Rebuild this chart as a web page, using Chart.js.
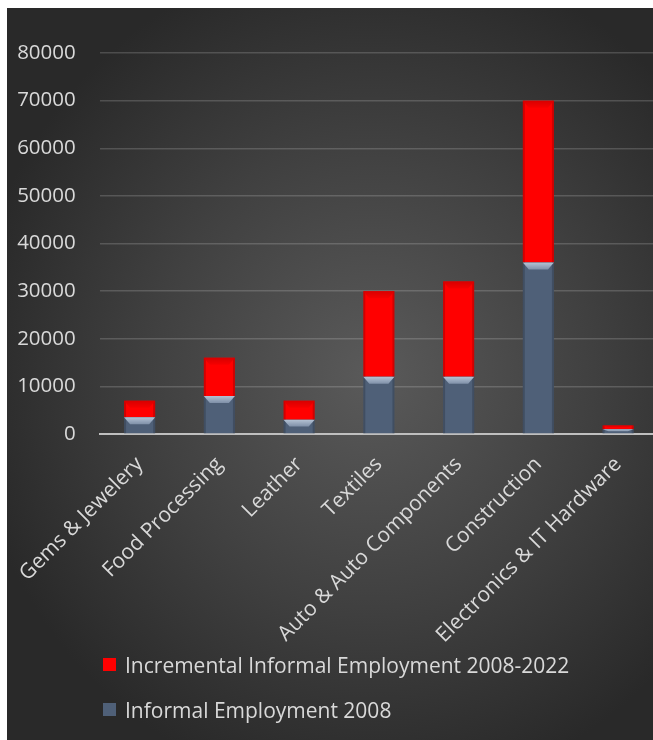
<!DOCTYPE html>
<html>
<head>
<meta charset="utf-8">
<script src="https://cdn.jsdelivr.net/npm/chart.js@4.4.0/dist/chart.umd.min.js"></script>
<style>
    html, body { margin: 0; padding: 0; background: #fff; width: 653px; height: 740px; overflow: hidden; }
    #frame {
        position: absolute; left: 7px; top: 8px; width: 651px; height: 732px;
        background: radial-gradient(ellipse 62% 58% at 56% 50%, #5a5a5a 0%, #404040 55%, #292929 100%);
    }
    #chart { position: absolute; left: 0; top: 0; }
    #legend {
        position: absolute; left: 96px; top: 634px;
        font-family: 'Open Sans', sans-serif; font-size: 21px; color: #d9d9d9;
    }
    .legend-item { display: flex; align-items: center; height: 45px; white-space: nowrap; }
    .legend-swatch { width: 13px; height: 13px; margin-right: 9px; }
</style>
</head>
<body>
<div id="frame">
    <canvas id="chart" width="651" height="732"></canvas>
    <div id="legend"></div>
</div>
<script>
// Chart data
const categories = ['Gems & Jewelery', 'Food Processing', 'Leather', 'Textiles',
                    'Auto & Auto Components', 'Construction', 'Electronics & IT Hardware'];
const informal2008 = [3500, 8000, 3000, 12000, 12000, 36000, 1000];
const incremental = [3500, 8000, 4000, 18000, 20000, 34000, 800];
const seriesNames = ['Informal Employment 2008', 'Incremental Informal Employment 2008-2022'];
const yTicks = [0, 10000, 20000, 30000, 40000, 50000, 60000, 70000, 80000];

const TEXT = '#d9d9d9';
const BLUE = '#4f6078';
const RED = '#ff0000';

// Little bevel on top of each bar, like the Excel style
const bevelPlugin = {
    id: 'bevel',
    afterDatasetsDraw(chart) {
        const ctx = chart.ctx;
        chart.data.datasets.forEach((ds, i) => {
            chart.getDatasetMeta(i).data.forEach(bar => {
                const { x, y, base, width } = bar.getProps(['x', 'y', 'base', 'width'], true);
                const left = x - width / 2;
                const h = base - y;
                if (h <= 0) return;
                const bev = Math.min(7, h / 2);
                const inset = Math.min(6, width / 4);
                ctx.save();
                // dark side edges
                ctx.fillStyle = 'rgba(0,0,0,0.18)';
                ctx.fillRect(left, y, 2, h);
                ctx.fillRect(left + width - 2, y, 2, h);
                // top chevron
                const g = ctx.createLinearGradient(0, y, 0, y + bev);
                if (i === 0) {
                    g.addColorStop(0, '#b4c2d4');
                    g.addColorStop(1, '#7f90a8');
                } else {
                    g.addColorStop(0, '#d80000');
                    g.addColorStop(1, '#f60000');
                }
                ctx.fillStyle = g;
                ctx.beginPath();
                ctx.moveTo(left, y);
                ctx.lineTo(left + width, y);
                ctx.lineTo(left + width - inset, y + bev);
                ctx.lineTo(left + inset, y + bev);
                ctx.closePath();
                ctx.fill();
                ctx.restore();
            });
        });
    }
};

const chart = new Chart(document.getElementById('chart'), {
    type: 'bar',
    data: {
        labels: categories,
        datasets: [
            { label: seriesNames[0], data: informal2008, backgroundColor: BLUE },
            { label: seriesNames[1], data: incremental, backgroundColor: RED }
        ]
    },
    options: {
        responsive: false,
        animation: false,
        devicePixelRatio: 1,
        layout: { padding: { top: 45, left: 0, right: 0, bottom: 0 } },
        datasets: { bar: { categoryPercentage: 1, barPercentage: 0.39 } },
        plugins: { legend: { display: false }, tooltip: { enabled: false } },
        scales: {
            x: {
                stacked: true,
                grid: { display: false },
                border: { display: true, color: '#bfbfbf', width: 2 },
                ticks: {
                    color: TEXT,
                    font: { family: 'Open Sans', size: 21 },
                    minRotation: 45, maxRotation: 45,
                    padding: 10,
                    autoSkip: false
                },
                afterFit: s => { s.height = 306; }
            },
            y: {
                stacked: true,
                min: 0, max: 80000,
                afterBuildTicks: s => { s.ticks = yTicks.map(v => ({ value: v })); },
                ticks: {
                    color: TEXT,
                    font: { family: 'Open Sans', size: 20.5 },
                    padding: 24,
                    callback: v => String(v)
                },
                grid: { color: 'rgba(255,255,255,0.17)', lineWidth: 1.5, drawTicks: false },
                border: { display: false },
                afterFit: s => { s.width = 89; }
            }
        }
    },
    plugins: [bevelPlugin]
});

// HTML legend, Excel lists the stacked series top first
const legendBox = document.getElementById('legend');
chart.data.datasets.slice().reverse().forEach(ds => {
    const item = document.createElement('div');
    item.className = 'legend-item';
    const sw = document.createElement('span');
    sw.className = 'legend-swatch';
    sw.style.background = ds.backgroundColor;
    const txt = document.createElement('span');
    txt.textContent = ds.label;
    item.appendChild(sw);
    item.appendChild(txt);
    legendBox.appendChild(item);
});
</script>
</body>
</html>
